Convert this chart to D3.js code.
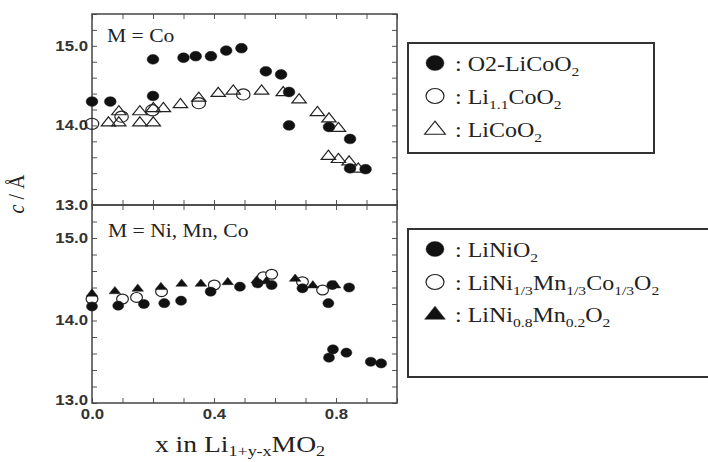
<!DOCTYPE html>
<html>
<head>
<meta charset="utf-8">
<script src="https://cdn.jsdelivr.net/npm/d3@7"></script>
<style>
body{margin:0;background:#fff}
svg{display:block;font-family:"Liberation Serif","Times New Roman",serif}
.tick line{stroke:#555;stroke-width:1}
.tick text{font-weight:bold;font-size:14px;fill:#333}
</style>
</head>
<body>
<div id="chart"></div>
<script>
// --- M = Co panel, [x, c] ---
var o2LiCoO2 = [[0.0,14.30],[0.06,14.30],[0.20,14.83],[0.20,14.37],[0.30,14.85],[0.34,14.87],[0.39,14.87],
  [0.44,14.94],[0.49,14.97],[0.57,14.68],[0.62,14.64],[0.646,14.42],[0.646,14.00],[0.777,13.98],
  [0.846,13.83],[0.846,13.46],[0.897,13.45]]
var li11CoO2 = [[0.0,14.02],[0.097,14.11],[0.198,14.19],[0.35,14.28],[0.496,14.39]]
var liCoO2 = [[0.054,14.04],[0.088,14.04],[0.088,14.18],[0.157,14.04],[0.157,14.18],[0.201,14.04],[0.201,14.22],
  [0.234,14.22],[0.29,14.27],[0.35,14.35],[0.414,14.41],[0.463,14.44],[0.556,14.44],[0.627,14.42],
  [0.679,14.33],[0.739,14.17],[0.777,14.09],[0.808,13.97],[0.775,13.62],[0.808,13.58],[0.843,13.55],
  [0.873,13.46]]

// --- M = Ni, Mn, Co panel ---
var liNiO2 = [[0.0,14.17],[0.086,14.18],[0.17,14.20],[0.237,14.21],[0.292,14.24],[0.389,14.35],[0.485,14.41],
  [0.543,14.45],[0.589,14.43],[0.69,14.39],[0.775,14.21],[0.788,14.43],[0.843,14.40],[0.777,13.55],
  [0.79,13.65],[0.834,13.61],[0.914,13.50],[0.948,13.48]]
var nmc111 = [[0.0,14.26],[0.10,14.26],[0.146,14.28],[0.228,14.35],[0.401,14.43],[0.562,14.53],[0.589,14.56],
  [0.69,14.47],[0.756,14.37]]
var liNi08Mn02 = [[0.0,14.33],[0.075,14.36],[0.15,14.39],[0.226,14.41],[0.294,14.45],[0.357,14.45],[0.445,14.47],
  [0.54,14.49],[0.572,14.48],[0.666,14.51],[0.724,14.43],[0.797,14.43]]

// tick values
var xTicks = d3.range(0, 10.5, 1).map(function(d){ return d / 10 })
var xLabels = [0.0, 0.4, 0.8]
var yTicks = d3.range(0, 12.5, 1).map(function(d){ return 13 + d * 0.2 })
var yLabels = [13.0, 14.0, 15.0]

// legend labels: [text, isSubscript]
var coLegend = [
  [[": O2-LiCoO",0],["2",1]],
  [[": Li",0],["1.1",1],["CoO",0],["2",1]],
  [[": LiCoO",0],["2",1]]
]
var nmcLegend = [
  [[": LiNiO",0],["2",1]],
  [[": LiNi",0],["1/3",1],["Mn",0],["1/3",1],["Co",0],["1/3",1],["O",0],["2",1]],
  [[": LiNi",0],["0.8",1],["Mn",0],["0.2",1],["O",0],["2",1]]
]

var W = 708, H = 462, SX = 1.2
var svg = d3.select("#chart").append("svg").attr("width", W).attr("height", H)

var x = d3.scaleLinear().domain([0, 1.0]).range([92, 397])
var yTop = d3.scaleLinear().domain([13, 15.4]).range([205, 14])
var yBot = d3.scaleLinear().domain([13, 15.4]).range([403, 205])

function isIn(list, d){ return list.some(function(v){ return Math.abs(v - d) < 1e-6 }) }

function drawAxes(y, showX){
  var g = svg.append("g")
  var left = d3.axisLeft(y).tickValues(yTicks).tickSizeInner(-5).tickSizeOuter(0).tickPadding(4)
    .tickFormat(function(d){ return isIn(yLabels, d) ? d3.format(".1f")(d) : "" })
  var right = d3.axisRight(y).tickValues(yTicks).tickSizeInner(-5).tickSizeOuter(0).tickFormat("")
  var bottom = d3.axisBottom(x).tickValues(xTicks).tickSizeInner(-5).tickSizeOuter(0).tickPadding(6)
    .tickFormat(function(d){ return showX && isIn(xLabels, d) ? d3.format(".1f")(d) : "" })
  var top = d3.axisTop(x).tickValues(xTicks).tickSizeInner(-5).tickSizeOuter(0).tickFormat("")

  var gl = g.append("g").attr("transform", "translate(" + x.range()[0] + ",0)").call(left)
  g.append("g").attr("transform", "translate(" + x.range()[1] + ",0)").call(right)
  g.append("g").attr("transform", "translate(0," + y.range()[0] + ")").call(bottom)
  g.append("g").attr("transform", "translate(0," + y.range()[1] + ")").call(top)
  g.selectAll(".domain").remove()
  g.selectAll(".tick text").each(function(){
    var t = d3.select(this)
    t.attr("transform", "scale(" + SX + ",1)").attr("x", +t.attr("x") / SX)
  })
  // lowest label of the bottom panel sits a bit higher, next to "0.0"
  if(showX){
    gl.selectAll(".tick").filter(function(d){ return Math.abs(d - 13) < 1e-6 })
      .select("text").attr("dy", "0.1em")
  }

  g.append("rect")
    .attr("x", x.range()[0]).attr("y", y.range()[1])
    .attr("width", x.range()[1] - x.range()[0]).attr("height", y.range()[0] - y.range()[1])
    .attr("fill", "none").attr("stroke", "#444").attr("stroke-width", 1.5)
}

function marker(g, type, cx, cy, r, filled, fillOpen){
  if(type == "circle"){
    return g.append("ellipse").attr("cx", cx).attr("cy", cy).attr("rx", r * SX).attr("ry", r)
      .attr("fill", filled ? "#111" : (fillOpen || "none"))
      .attr("stroke", "#222").attr("stroke-width", filled ? 0.5 : 1.2)
  }
  var h = r * 1.75, w = r * 1.15 * SX
  var pts = [[cx, cy - h * 0.6], [cx + w, cy + h * 0.4], [cx - w, cy + h * 0.4]]
  return g.append("path").attr("d", "M" + pts.join("L") + "Z")
    .attr("fill", filled ? "#111" : (fillOpen || "none"))
    .attr("stroke", "#222").attr("stroke-width", filled ? 0.5 : 1.2)
}

function drawSeries(data, y, type, r, filled, fillOpen){
  var g = svg.append("g")
  data.forEach(function(d){ marker(g, type, x(d[0]), y(d[1]), r, filled, fillOpen) })
}

function stretched(px, py, size){
  return svg.append("text").attr("transform", "translate(" + px + "," + py + ") scale(" + SX + ",1)")
    .attr("font-size", size).attr("fill", "#222")
}

function richText(t, segs, subSize, shift){
  shift = shift || 5
  segs.forEach(function(s, i){
    var prevSub = i > 0 && segs[i - 1][1]
    var ts = t.append("tspan").text(s[0])
    if(s[1]){ ts.attr("font-size", subSize).attr("dy", shift) }
    else if(prevSub){ ts.attr("dy", -shift) }
  })
}

// panels
drawAxes(yTop, false)
drawAxes(yBot, true)

drawSeries(liCoO2, yTop, "triangle", 5.2, false)
drawSeries(li11CoO2, yTop, "circle", 5.6, false)
drawSeries(o2LiCoO2, yTop, "circle", 4.9, true)

drawSeries(nmc111, yBot, "circle", 4.9, false, "#fff")
drawSeries(liNiO2, yBot, "circle", 4.6, true)
drawSeries(liNi08Mn02, yBot, "triangle", 4.2, true)

// panel labels
stretched(107, 41.5, 18).text("M = Co")
stretched(108, 236.5, 18).text("M = Ni, Mn, Co")

// axis titles
var xt = svg.append("text").attr("transform", "translate(240,452) scale(" + SX + ",1)")
  .attr("font-size", 23).attr("fill", "#222").attr("text-anchor", "middle")
richText(xt, [["x in Li",0],["1+y-x",1],["MO",0],["2",1]], 15, 4)

var yt = svg.append("text").attr("transform", "translate(24,194) scale(" + SX + ",1) rotate(-90)")
  .attr("font-size", 20).attr("fill", "#222").attr("text-anchor", "middle")
yt.append("tspan").attr("font-style", "italic").text("c")
yt.append("tspan").text(" / Å")

// legends
function drawLegend(box, labels, types, fills, rows){
  svg.append("rect").attr("x", box[0]).attr("y", box[1]).attr("width", box[2]).attr("height", box[3])
    .attr("fill", "#fff").attr("stroke", "#333").attr("stroke-width", 2)
  var g = svg.append("g")
  labels.forEach(function(segs, i){
    marker(g, types[i], 435, rows[i] - 8, 7.5, fills[i])
    var t = stretched(455, rows[i], 20)
    richText(t, segs, 13)
  })
}
drawLegend([408, 43, 246, 110], coLegend, ["circle","circle","triangle"], [true,false,false], [71, 104, 137])
drawLegend([408, 229, 320, 148], nmcLegend, ["circle","circle","triangle"], [true,false,true], [257, 290, 322])
</script>
</body>
</html>
